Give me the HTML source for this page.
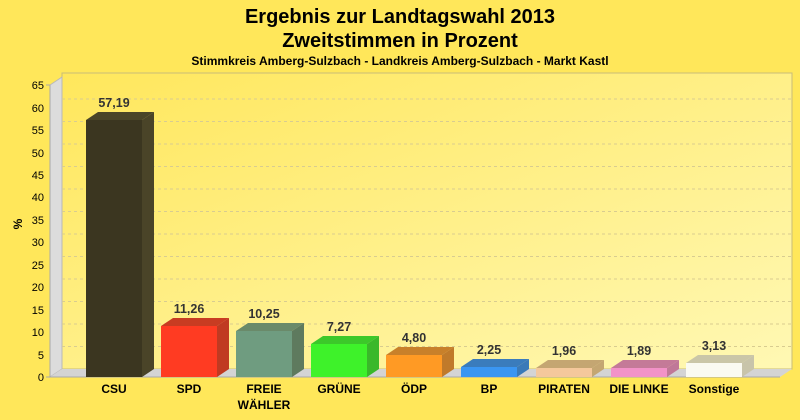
<!DOCTYPE html>
<html><head><meta charset="utf-8"><style>body{margin:0}svg{display:block}text{font-family:"Liberation Sans",sans-serif}</style></head><body>
<svg width="800" height="420" xmlns="http://www.w3.org/2000/svg">
<defs>
<linearGradient id="bg" x1="0" y1="0" x2="1" y2="1"><stop offset="0" stop-color="#ffe75c"/><stop offset="1" stop-color="#fff8b4"/></linearGradient>
</defs>
<rect width="800" height="420" fill="#ffe75a"/>
<text x="400" y="23" font-size="20" font-weight="bold" text-anchor="middle">Ergebnis zur Landtagswahl 2013</text>
<text x="400" y="47" font-size="20" font-weight="bold" text-anchor="middle">Zweitstimmen in Prozent</text>
<text x="400" y="65" font-size="12" font-weight="bold" text-anchor="middle">Stimmkreis Amberg-Sulzbach - Landkreis Amberg-Sulzbach - Markt Kastl</text>
<rect x="62" y="73" width="730" height="296" fill="url(#bg)" stroke="#c8bc78"/>
<polygon points="50,85 62,77 62,369 50,377" fill="#dcdcdc" stroke="#b8b8b8"/>
<polygon points="50,377 62,369 792,369 780,377" fill="#d4d4d4"/>
<line x1="50" y1="377" x2="780" y2="377" stroke="#a8a8a8"/>
<line x1="50" y1="85" x2="50" y2="377" stroke="#a8a8a8"/>
<g stroke="#d8cc90" stroke-dasharray="3,3">
<line x1="62" y1="346.5" x2="792" y2="346.5"/><line x1="62" y1="324" x2="792" y2="324"/><line x1="62" y1="301.5" x2="792" y2="301.5"/><line x1="62" y1="279" x2="792" y2="279"/><line x1="62" y1="256.5" x2="792" y2="256.5"/><line x1="62" y1="234" x2="792" y2="234"/><line x1="62" y1="211.5" x2="792" y2="211.5"/><line x1="62" y1="189" x2="792" y2="189"/><line x1="62" y1="166.5" x2="792" y2="166.5"/><line x1="62" y1="144" x2="792" y2="144"/><line x1="62" y1="121.5" x2="792" y2="121.5"/><line x1="62" y1="99" x2="792" y2="99"/>
</g>
<g font-size="11" text-anchor="end">
<text x="44" y="381">0</text><text x="44" y="359">5</text><text x="44" y="336">10</text><text x="44" y="314">15</text><text x="44" y="291">20</text><text x="44" y="269">25</text><text x="44" y="246">30</text><text x="44" y="224">35</text><text x="44" y="201">40</text><text x="44" y="179">45</text><text x="44" y="157">50</text><text x="44" y="134">55</text><text x="44" y="112">60</text><text x="44" y="89">65</text>
</g>
<g stroke="#a8a8a8"><line x1="46" y1="377" x2="50" y2="377"/><line x1="46" y1="85" x2="50" y2="85"/></g>
<text x="22" y="224" font-size="12" font-weight="bold" transform="rotate(-90 22 224)" text-anchor="middle">%</text>
<g stroke-width="0.5">
<polygon points="86,120 98,112 154,112 142,120" fill="#4a4528"/><polygon points="142,120 154,112 154,369 142,377" fill="#4a4428"/><rect x="86" y="120" width="56" height="257" fill="#3b3620"/>
<polygon points="161,326 173,318 229,318 217,326" fill="#c83c22"/><polygon points="217,326 229,318 229,369 217,377" fill="#c03a22"/><rect x="161" y="326" width="56" height="51" fill="#ff3b22"/>
<polygon points="236,331 248,323 304,323 292,331" fill="#6a8a6a"/><polygon points="292,331 304,323 304,369 292,377" fill="#5e7a5e"/><rect x="236" y="331" width="56" height="46" fill="#6f9c80"/>
<polygon points="311,344 323,336 379,336 367,344" fill="#3cc82a"/><polygon points="367,344 379,336 379,369 367,377" fill="#3ab82a"/><rect x="311" y="344" width="56" height="33" fill="#3ef22a"/>
<polygon points="386,355 398,347 454,347 442,355" fill="#c8802a"/><polygon points="442,355 454,347 454,369 442,377" fill="#c07a2a"/><rect x="386" y="355" width="56" height="22" fill="#ff9a24"/>
<polygon points="461,367 473,359 529,359 517,367" fill="#3a7cbc"/><polygon points="517,367 529,359 529,369 517,377" fill="#3a7ab8"/><rect x="461" y="367" width="56" height="10" fill="#3a96f2"/>
<polygon points="536,368 548,360 604,360 592,368" fill="#c4a672"/><polygon points="592,368 604,360 604,369 592,377" fill="#c4a672"/><rect x="536" y="368" width="56" height="9" fill="#f4c89c"/>
<polygon points="611,368 623,360 679,360 667,368" fill="#c47a98"/><polygon points="667,368 679,360 679,369 667,377" fill="#c07898"/><rect x="611" y="368" width="56" height="9" fill="#f292c8"/>
<polygon points="686,363 698,355 754,355 742,363" fill="#cac6a8"/><polygon points="742,363 754,355 754,369 742,377" fill="#c8c4aa"/><rect x="686" y="363" width="56" height="14" fill="#fafaf2"/>
</g>
<g font-size="12.5" font-weight="bold" text-anchor="middle" fill="#333">
<text x="114" y="107">57,19</text><text x="189" y="313">11,26</text><text x="264" y="318">10,25</text><text x="339" y="331">7,27</text><text x="414" y="342">4,80</text><text x="489" y="354">2,25</text><text x="564" y="355">1,96</text><text x="639" y="355">1,89</text><text x="714" y="350">3,13</text>
</g>
<g font-size="12" font-weight="bold" text-anchor="middle">
<text x="114" y="393">CSU</text><text x="189" y="393">SPD</text><text x="264" y="393">FREIE</text><text x="264" y="409">WÄHLER</text><text x="339" y="393">GRÜNE</text><text x="414" y="393">ÖDP</text><text x="489" y="393">BP</text><text x="564" y="393">PIRATEN</text><text x="639" y="393">DIE LINKE</text><text x="714" y="393">Sonstige</text>
</g>
</svg>
</body></html>
